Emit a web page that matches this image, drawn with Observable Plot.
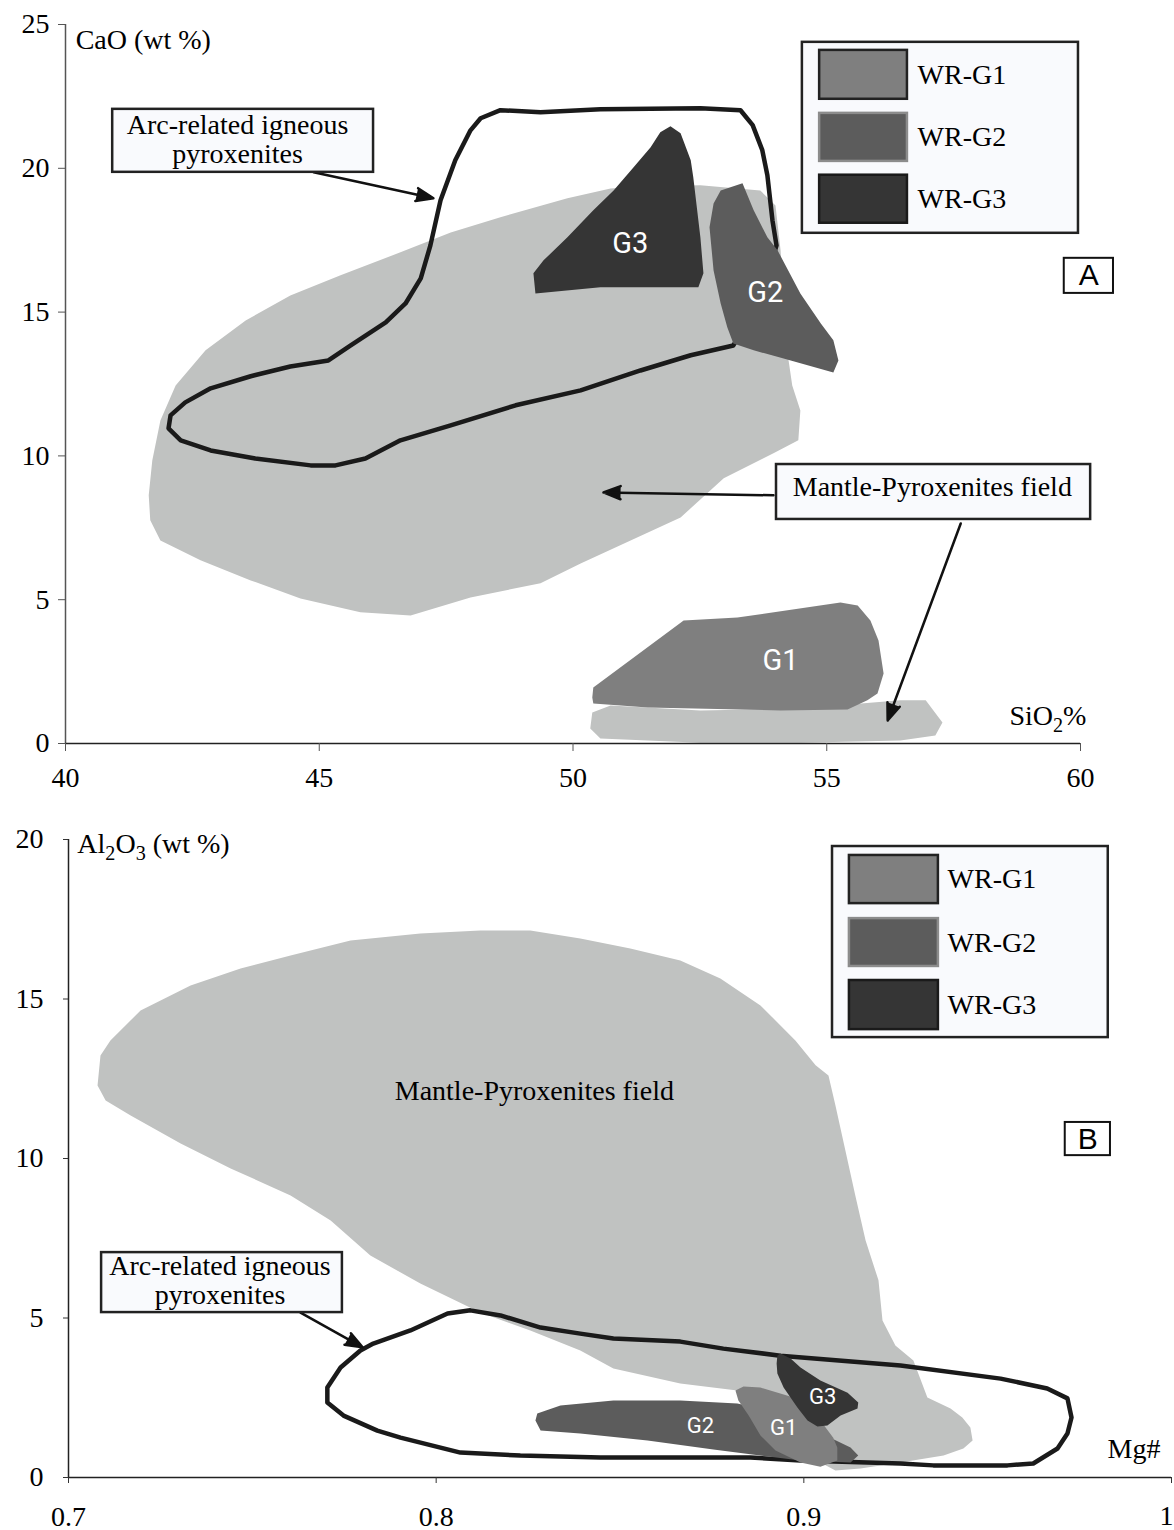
<!DOCTYPE html>
<html><head><meta charset="utf-8">
<script src="https://cdn.jsdelivr.net/npm/d3@7"></script>
<script src="https://cdn.jsdelivr.net/npm/@observablehq/plot@0.6"></script>
<style>body{margin:0;background:#fff} #chart svg{display:block}</style>
</head><body><div id="chart"></div>
<script>
// ---------- Panel A : CaO vs SiO2 ----------
const mantleA = [[41.67,7.76],[41.87,7.06],[42.66,6.37],[43.65,5.67],[44.63,5.04],[45.81,4.56],[46.80,4.45],[47.98,5.08],[49.36,5.57],[50.15,6.26],[52.12,7.86],[52.97,9.22],[53.95,10.09],[54.44,10.54],[54.48,11.58],[54.32,12.45],[54.19,14.02],[54.15,15.41],[54.09,17.15],[53.99,18.71],[53.69,19.23],[52.51,19.41],[51.33,19.37],[50.74,19.30],[49.89,18.96],[48.57,18.30],[47.59,17.77],[46.60,17.08],[45.42,16.28],[44.43,15.58],[43.55,14.71],[42.76,13.67],[42.17,12.45],[41.87,11.23],[41.71,9.84],[41.64,8.63]];
const mantleStripA = [[50.38,1.08],[50.74,1.32],[52.51,1.15],[54.48,1.22],[56.45,1.50],[56.95,1.50],[57.28,0.73],[57.14,0.28],[56.45,0.10],[54.48,0.03],[52.51,0.03],[50.54,0.17],[50.34,0.52]];
const g1A = [[50.40,1.95],[52.18,4.28],[53.24,4.38],[55.27,4.90],[55.61,4.80],[55.86,4.28],[56.02,3.58],[56.12,2.43],[56.00,1.74],[55.80,1.50],[55.41,1.18],[54.09,1.15],[51.47,1.25],[50.40,1.39],[50.38,1.60]];
const g2A = [[52.91,19.23],[53.34,19.48],[53.56,18.54],[53.83,17.60],[54.03,17.15],[54.48,15.65],[54.88,14.61],[55.13,14.02],[55.23,13.32],[55.13,12.90],[54.15,13.39],[53.56,13.67],[53.16,13.91],[53.04,14.47],[52.91,15.30],[52.77,16.45],[52.69,17.95],[52.77,18.78]];
const g3A = [[49.26,15.65],[49.22,16.35],[49.42,16.80],[49.89,17.60],[50.40,18.54],[50.80,19.23],[51.19,20.03],[51.53,20.73],[51.72,21.25],[51.92,21.46],[52.12,21.22],[52.32,20.28],[52.37,19.69],[52.51,17.60],[52.57,16.35],[52.47,15.86],[50.54,15.86]];
const arcA = [[47.98,21.32],[48.18,21.74],[48.57,22.02],[49.36,21.95],[50.54,22.05],[52.51,22.09],[53.30,22.02],[53.54,21.50],[53.73,20.63],[53.83,19.76],[53.93,18.19],[54.01,17.32],[53.69,15.41],[53.16,13.84],[52.32,13.50],[51.33,12.97],[50.15,12.28],[48.87,11.76],[47.59,11.06],[46.60,10.54],[45.91,9.91],[45.32,9.67],[44.83,9.67],[43.74,9.91],[42.86,10.19],[42.27,10.54],[42.03,10.96],[42.07,11.41],[42.36,11.86],[42.86,12.35],[43.65,12.77],[44.43,13.11],[45.18,13.32],[45.62,13.84],[46.31,14.64],[46.70,15.30],[47.00,16.17],[47.19,17.32],[47.39,18.89],[47.68,20.28]];
const xTicksA = [40,45,50,55,60];
const yTicksA = [0,5,10,15,20,25];

// ---------- Panel B : Al2O3 vs Mg# ----------
const mantleB = [[0.7079,12.29],[0.7087,13.23],[0.7114,13.70],[0.7196,14.64],[0.7332,15.42],[0.7468,15.96],[0.7604,16.36],[0.7767,16.83],[0.7957,17.05],[0.8120,17.15],[0.8256,17.15],[0.8392,16.90],[0.8528,16.58],[0.8664,16.21],[0.8773,15.64],[0.8882,14.80],[0.8977,13.70],[0.9032,12.92],[0.9067,12.60],[0.9086,11.66],[0.9113,10.25],[0.9140,8.84],[0.9168,7.43],[0.9203,6.18],[0.9214,4.92],[0.9249,4.14],[0.9298,3.67],[0.9336,2.51],[0.9399,2.16],[0.9431,1.88],[0.9453,1.57],[0.9459,1.16],[0.9434,0.91],[0.9380,0.69],[0.9263,0.47],[0.9154,0.28],[0.9086,0.22],[0.9045,0.47],[0.8936,1.94],[0.8819,2.73],[0.8664,2.95],[0.8482,3.42],[0.8392,3.98],[0.8256,4.61],[0.8120,5.17],[0.7957,6.08],[0.7821,6.96],[0.7713,8.06],[0.7604,8.84],[0.7441,9.69],[0.7305,10.47],[0.7169,11.35],[0.7101,11.82]];
const g1B = [[0.8814,2.73],[0.8836,2.85],[0.8882,2.82],[0.8936,2.63],[0.8972,2.51],[0.9045,1.79],[0.9080,1.25],[0.9091,0.94],[0.9091,0.53],[0.9045,0.34],[0.8991,0.47],[0.8923,0.85],[0.8882,1.32],[0.8850,1.94],[0.8822,2.41]];
const g2B = [[0.8275,2.01],[0.8338,2.26],[0.8482,2.41],[0.8664,2.41],[0.8819,2.32],[0.8909,2.10],[0.8964,1.63],[0.9072,1.25],[0.9127,0.94],[0.9148,0.69],[0.9127,0.47],[0.8991,0.53],[0.8754,0.88],[0.8575,1.16],[0.8392,1.38],[0.8284,1.47],[0.8270,1.79]];
const g3B = [[0.8928,3.82],[0.8936,3.89],[0.8964,3.73],[0.8991,3.45],[0.9045,3.04],[0.9119,2.66],[0.9148,2.35],[0.9146,2.16],[0.9100,1.94],[0.9064,1.63],[0.9037,1.60],[0.9010,1.79],[0.8983,2.19],[0.8945,2.82],[0.8928,3.26],[0.8926,3.57]];
const arcB = [[0.7829,4.20],[0.7930,4.61],[0.8031,5.14],[0.8093,5.24],[0.8175,5.08],[0.8284,4.70],[0.8392,4.51],[0.8482,4.36],[0.8664,4.26],[0.8781,4.04],[0.8936,3.82],[0.9263,3.51],[0.9535,3.10],[0.9662,2.79],[0.9717,2.48],[0.9728,1.88],[0.9717,1.38],[0.9690,0.91],[0.9624,0.44],[0.9554,0.38],[0.9352,0.38],[0.9263,0.44],[0.8991,0.53],[0.8855,0.63],[0.8719,0.63],[0.8447,0.63],[0.8229,0.69],[0.8066,0.78],[0.7903,1.25],[0.7840,1.47],[0.7748,1.94],[0.7704,2.35],[0.7704,2.82],[0.7740,3.45],[0.7794,3.98]];
const xTicksB = [0.7,0.8,0.9,1];
const yTicksB = [0,5,10,15,20];

const legendNames = ["WR-G1","WR-G2","WR-G3"];
const groupLabels = ["G1","G2","G3"];

// ---------- styling ----------
const serif = "'Liberation Serif','Times New Roman',serif";
const sans = "Roboto,'Liberation Sans',sans-serif";
const mantleColor = "#c0c2c1";
const fillG = ["#7f7f7f","#5c5c5c","#353535"];
const strokeG = ["#222","#8c8c8c","#1a1a1a"];
const boxFill = "#f9fafd";

const pts = a => a.map(([x, y]) => ({x, y}));
const poly = (a, o) => Plot.line(pts(a), {x: "x", y: "y", curve: "linear-closed", ...o});
const arrowStyle = {stroke: "#111", fill: "#111", strokeWidth: 2.5, headLength: 11, headAngle: 42};

function subscriptify(svg) {
  svg.querySelectorAll("text").forEach(t => {
    if (t.children.length === 0 && /_\d/.test(t.textContent)) {
      const parts = t.textContent.split(/_(\d)/);
      t.textContent = "";
      parts.forEach((p, i) => {
        if (!p) return;
        const ts = document.createElementNS("http://www.w3.org/2000/svg", "tspan");
        ts.textContent = p;
        if (i % 2 === 1) { ts.setAttribute("dy", "7"); ts.setAttribute("font-size", "0.72em"); }
        else if (i > 0) { ts.setAttribute("dy", "-7"); }
        t.appendChild(ts);
      });
    }
  });
}

function legend(x1, x2, y1, y2, sx1, sx2, rows, tx) {
  return [
    Plot.rect([0], {x1: x1, x2: x2, y1: y1, y2: y2, fill: boxFill, stroke: "#222", strokeWidth: 2.5}),
    Plot.rect(legendNames.map((n, i) => ({n, i})), {x1: sx1, x2: sx2, y1: d => rows[d.i][0], y2: d => rows[d.i][1], fill: d => fillG[d.i], stroke: d => strokeG[d.i], strokeWidth: 2.5}),
    Plot.text(legendNames.map((n, i) => ({n, i})), {x: tx, y: d => rows[d.i][2], text: "n", textAnchor: "start", fontFamily: serif, fontSize: 28})
  ];
}

const chart = document.getElementById("chart");

// ---------- Panel A ----------
const plotA = Plot.plot({
  width: 1174, height: 800,
  marginLeft: 65, marginRight: 94, marginTop: 24, marginBottom: 57,
  x: {domain: [40, 60]},
  y: {domain: [0, 25]},
  style: {fontFamily: serif, fontSize: "28px", color: "#000", background: "#fff", overflow: "visible"},
  marks: [
    poly(mantleA, {fill: mantleColor, stroke: "none"}),
    poly(mantleStripA, {fill: mantleColor, stroke: "none"}),
    poly(arcA, {stroke: "#1a1a1a", strokeWidth: 4.5, strokeLinejoin: "round"}),
    poly(g3A, {fill: fillG[2], stroke: "none"}),
    poly(g2A, {fill: fillG[1], stroke: "none"}),
    poly(g1A, {fill: fillG[0], stroke: "none"}),
    Plot.text([{t: groupLabels[2], x: 51.13, y: 17.39}, {t: groupLabels[1], x: 53.79, y: 15.69}, {t: groupLabels[0], x: 54.09, y: 2.89}],
      {x: "x", y: "y", text: "t", fill: "#fff", fontFamily: sans, fontSize: 29}),
    Plot.ruleX([40], {stroke: "#555", strokeWidth: 1.5}),
    Plot.ruleY([0], {stroke: "#222", strokeWidth: 1.5}),
    Plot.axisX({ticks: xTicksA, tickSize: 8, tickPadding: 16, label: null, tickFormat: d => String(d), fontSize: 28, fontFamily: serif, stroke: "#555"}),
    Plot.axisY({ticks: yTicksA, tickSize: 7, tickPadding: 9, label: null, tickFormat: d => String(d), fontSize: 28, fontFamily: serif, stroke: "#555"}),
    Plot.text(["CaO (wt %)"], {x: 40.2, y: 24.45, text: d => d, textAnchor: "start", fontFamily: serif, fontSize: 28}),
    Plot.text(["SiO_2%"], {x: 58.6, y: 0.95, text: d => d, textAnchor: "start", fontFamily: serif, fontSize: 28}),
    // arc label + arrow
    Plot.arrow([0], {x1: 44.89, y1: 19.86, x2: 47.25, y2: 18.96, ...arrowStyle}),
    Plot.rect([0], {x1: 40.93, x2: 46.07, y1: 22.05, y2: 19.86, fill: boxFill, stroke: "#222", strokeWidth: 2.5}),
    Plot.text(["Arc-related igneous\npyroxenites"], {x: 43.39, y: 21.0, text: d => d, fontFamily: serif, fontSize: 28, lineHeight: 1.04}),
    // mantle label + arrows
    Plot.arrow([0], {x1: 53.95, y1: 8.63, x2: 50.60, y2: 8.73, ...arrowStyle}),
    Plot.arrow([0], {x1: 57.64, y1: 7.65, x2: 56.20, y2: 0.80, ...arrowStyle}),
    Plot.rect([0], {x1: 54.01, x2: 60.20, y1: 9.70, y2: 7.79, fill: boxFill, stroke: "#222", strokeWidth: 2.5}),
    Plot.text(["Mantle-Pyroxenites field"], {x: 57.08, y: 8.92, text: d => d, fontFamily: serif, fontSize: 28}),
    // legend
    ...legend(54.52, 59.96, 24.38, 17.74, 54.86, 56.59, [[24.10, 22.40, 23.23], [21.91, 20.24, 21.08], [19.76, 18.09, 18.92]], 56.79),
    // panel letter
    Plot.rect([0], {x1: 59.68, x2: 60.65, y1: 16.87, y2: 15.65, fill: "#fff", stroke: "#111", strokeWidth: 2}),
    Plot.text(["A"], {x: 60.165, y: 16.26, text: d => d, fontFamily: "'Liberation Sans',Arial,sans-serif", fontSize: 30})
  ]
});
subscriptify(plotA);
chart.appendChild(plotA);

// ---------- Panel B ----------
const plotB = Plot.plot({
  width: 1174, height: 730,
  marginLeft: 68, marginRight: 3, marginTop: 39, marginBottom: 53,
  x: {domain: [0.7, 1]},
  y: {domain: [0, 20]},
  style: {fontFamily: serif, fontSize: "28px", color: "#000", background: "#fff", overflow: "visible"},
  marks: [
    poly(mantleB, {fill: mantleColor, stroke: "none"}),
    poly(arcB, {stroke: "#1a1a1a", strokeWidth: 4.5, strokeLinejoin: "round"}),
    poly(g2B, {fill: fillG[1], stroke: "none"}),
    poly(g1B, {fill: fillG[0], stroke: "none"}),
    poly(g3B, {fill: fillG[2], stroke: "none"}),
    Plot.text([{t: groupLabels[1], x: 0.8719, y: 1.63}, {t: groupLabels[0], x: 0.8945, y: 1.55}, {t: groupLabels[2], x: 0.9051, y: 2.51}],
      {x: "x", y: "y", text: "t", fill: "#fff", fontFamily: sans, fontSize: 22}),
    Plot.ruleX([0.7], {stroke: "#222", strokeWidth: 1.5}),
    Plot.ruleY([0], {stroke: "#222", strokeWidth: 1.5}),
    Plot.axisX({ticks: xTicksB, tickSize: 6, tickPadding: 23, label: null, tickFormat: d => (d === 1 ? "" : String(d)), fontSize: 28, fontFamily: serif, stroke: "#333"}),
    Plot.text(xTicksB.filter(d => d === 1), {x: d => d, y: 0, dy: 39, dx: -5, text: d => String(d), fontFamily: serif, fontSize: 28}),
    Plot.axisY({ticks: yTicksB, tickSize: 5, tickPadding: 20, label: null, tickFormat: d => String(d), fontSize: 28, fontFamily: serif, stroke: "#333"}),
    Plot.text(["Al_2O_3 (wt %)"], {x: 0.7024, y: 19.85, text: d => d, textAnchor: "start", fontFamily: serif, fontSize: 28}),
    Plot.text(["Mg#"], {x: 0.9826, y: 0.9, text: d => d, textAnchor: "start", fontFamily: serif, fontSize: 28}),
    Plot.text(["Mantle-Pyroxenites field"], {x: 0.8267, y: 12.13, text: d => d, fontFamily: serif, fontSize: 28}),
    // arc label + arrow
    Plot.arrow([0], {x1: 0.7631, y1: 5.17, x2: 0.7800, y2: 4.08, ...arrowStyle}),
    Plot.rect([0], {x1: 0.7090, x2: 0.7745, y1: 7.05, y2: 5.17, fill: boxFill, stroke: "#222", strokeWidth: 2.5}),
    Plot.text(["Arc-related igneous\npyroxenites"], {x: 0.7412, y: 6.18, text: d => d, fontFamily: serif, fontSize: 28, lineHeight: 1.04}),
    // legend
    ...legend(0.9078, 0.9828, 19.78, 13.79, 0.9124, 0.9366, [[19.50, 17.99, 18.75], [17.52, 16.02, 16.77], [15.58, 14.04, 14.80]], 0.9391),
    // panel letter
    Plot.rect([0], {x1: 0.9711, x2: 0.9834, y1: 11.13, y2: 10.09, fill: "#fff", stroke: "#111", strokeWidth: 2}),
    Plot.text(["B"], {x: 0.97725, y: 10.6, text: d => d, fontFamily: "'Liberation Sans',Arial,sans-serif", fontSize: 30})
  ]
});
subscriptify(plotB);
chart.appendChild(plotB);
</script>
</body></html>
